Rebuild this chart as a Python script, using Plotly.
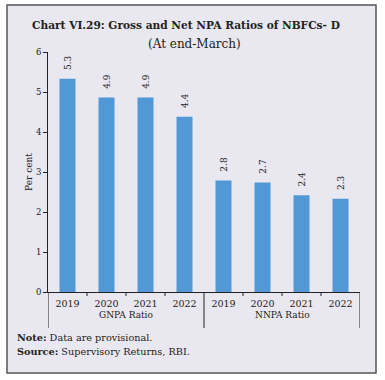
import plotly.graph_objects as go

group_names = ["GNPA Ratio", "NNPA Ratio"]
years = ["2019", "2020", "2021", "2022", "2019", "2020", "2021", "2022"]
values = [5.33, 4.86, 4.86, 4.38, 2.79, 2.74, 2.42, 2.33]
labels = ["5.3", "4.9", "4.9", "4.4", "2.8", "2.7", "2.4", "2.3"]
y_ticks = [0, 1, 2, 3, 4, 5, 6]

W, H = 385, 380
L, R, T, B = 48, 25, 52, 88
pw, ph = W - L - R, H - T - B

def px(x):
    return (x - L) / pw

def py(y):
    return (H - B - y) / ph

serif = "DejaVu Serif"
ink = "#222"
xpos = list(range(len(values)))

fig = go.Figure()
fig.add_trace(go.Bar(
    x=xpos, y=values, width=0.41,
    marker=dict(color="#5398d6", line=dict(width=0)),
    text=labels, texttemplate="\u00a0\u00a0%{text}",
    textposition="outside", textangle=-90, constraintext="none",
    textfont=dict(family=serif, size=9, color=ink),
    cliponaxis=False,
))

shapes = [dict(
    type="rect", xref="paper", yref="paper", layer="below",
    x0=px(7), x1=px(376), y0=py(373), y1=py(5),
    fillcolor="#e9e7ef", line=dict(color="#555", width=1.5),
)]
for b in [0.5, 1.5, 2.5, 4.5, 5.5, 6.5]:
    shapes.append(dict(type="line", xref="x", yref="paper", x0=b, x1=b,
                       y0=0, y1=py(296), line=dict(color=ink, width=1)))
for b in [-0.5, 3.5, 7.5]:
    shapes.append(dict(type="line", xref="x", yref="paper", x0=b, x1=b,
                       y0=0, y1=py(328), line=dict(color=ink, width=1)))

annotations = [
    dict(text="<b>Chart VI.29: Gross and Net NPA Ratios of NBFCs- D</b>",
         xref="paper", yref="paper", x=px(186), y=py(17), showarrow=False,
         font=dict(family=serif, size=10.6, color=ink)),
    dict(text="(At end-March)",
         xref="paper", yref="paper", x=px(194), y=py(35), showarrow=False,
         font=dict(family=serif, size=12, color=ink)),
    dict(text="<b>Note:</b> Data are provisional.",
         xref="paper", yref="paper", x=px(15), y=py(345), xanchor="left", showarrow=False,
         font=dict(family=serif, size=9.7, color=ink)),
    dict(text="<b>Source:</b> Supervisory Returns, RBI.",
         xref="paper", yref="paper", x=px(15), y=py(359), xanchor="left", showarrow=False,
         font=dict(family=serif, size=9.7, color=ink)),
    dict(text="Per cent", xref="paper", yref="paper", x=px(22), y=0.5, textangle=-90,
         showarrow=False, font=dict(family=serif, size=9, color=ink)),
]
for i, g in enumerate(group_names):
    annotations.append(dict(text=g, xref="x", yref="paper", x=1.5 + 4 * i, y=py(322),
                            showarrow=False, font=dict(family=serif, size=9, color=ink)))

fig.update_layout(
    width=W, height=H,
    margin=dict(l=L, r=R, t=T, b=B, autoexpand=False),
    paper_bgcolor="white", plot_bgcolor="rgba(0,0,0,0)",
    showlegend=False,
    font=dict(family=serif, size=9, color=ink),
    xaxis=dict(
        range=[-0.5, 7.5], tickmode="array", tickvals=xpos, ticktext=years,
        showline=True, linecolor=ink, linewidth=1, ticks="", ticklabelstandoff=3,
        tickfont=dict(family=serif, size=9.5, color=ink),
        showgrid=False, zeroline=False, automargin=False, fixedrange=True,
    ),
    yaxis=dict(
        range=[0, 6], tickmode="array", tickvals=y_ticks, showline=True,
        linecolor=ink, linewidth=1, ticks="outside", ticklen=4, tickcolor=ink,
        showgrid=False, zeroline=False, automargin=False,
        tickfont=dict(family=serif, size=8.5, color=ink),
    ),
    shapes=shapes,
    annotations=annotations,
)

fig.write_html("out.html", config={"displayModeBar": False},
               post_script="document.body.style.margin='0';document.body.style.overflow='hidden';")
